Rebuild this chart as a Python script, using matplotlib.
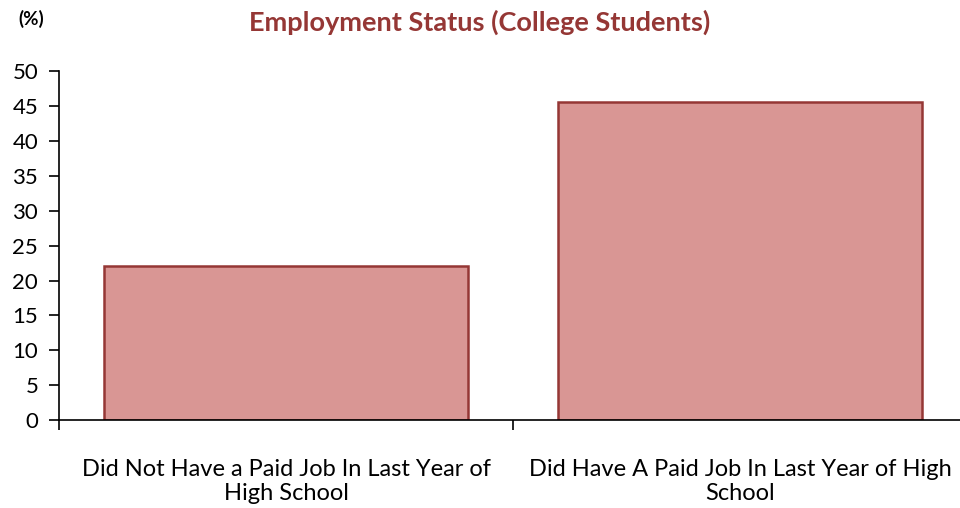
import matplotlib.pyplot as plt

categories = ['Did Not Have a Paid Job In Last Year of\nHigh School',
              'Did Have A Paid Job In Last Year of High\nSchool']
values = [22.1, 45.6]
yticks = [0, 5, 10, 15, 20, 25, 30, 35, 40, 45, 50]

plt.rcParams['font.family'] = ['Lato', 'DejaVu Sans']

fig = plt.figure(figsize=(9.6, 5.08), dpi=100)
ax = fig.add_axes([0.0615, 0.173, 0.9458, 0.687])

x = list(range(len(categories)))
ax.bar(x, values, width=0.8, color='#D99694', edgecolor='#953735', linewidth=1.8, zorder=2)

ax.set_xlim(-0.5, len(categories) - 0.5)
ax.set_ylim(0, 50)
ax.set_yticks(yticks)
ax.set_yticklabels([str(v) for v in yticks], fontsize=16)
ax.set_xticks(x)
ax.set_xticklabels(categories, fontsize=17, linespacing=1.15)
ax.tick_params(axis='x', length=0, pad=28)
ax.set_xticks([-0.5, 0.5, 1.5], minor=True)
ax.tick_params(axis='x', which='minor', length=7, width=1.2, direction='out')
ax.tick_params(axis='y', length=7, width=1.2, direction='out', pad=8)

for s in ['top', 'right']:
    ax.spines[s].set_visible(False)
ax.spines['left'].set_linewidth(1.2)
ax.spines['bottom'].set_linewidth(1.2)

fig.text(0.5, 0.957, 'Employment Status (College Students)', ha='center', va='center',
         fontsize=19.5, fontweight='bold', color='#953735')
fig.text(0.019, 0.962, '(%)', ha='left', va='center', fontsize=13.5, fontweight='bold')

fig.savefig('out.png', dpi=100)
